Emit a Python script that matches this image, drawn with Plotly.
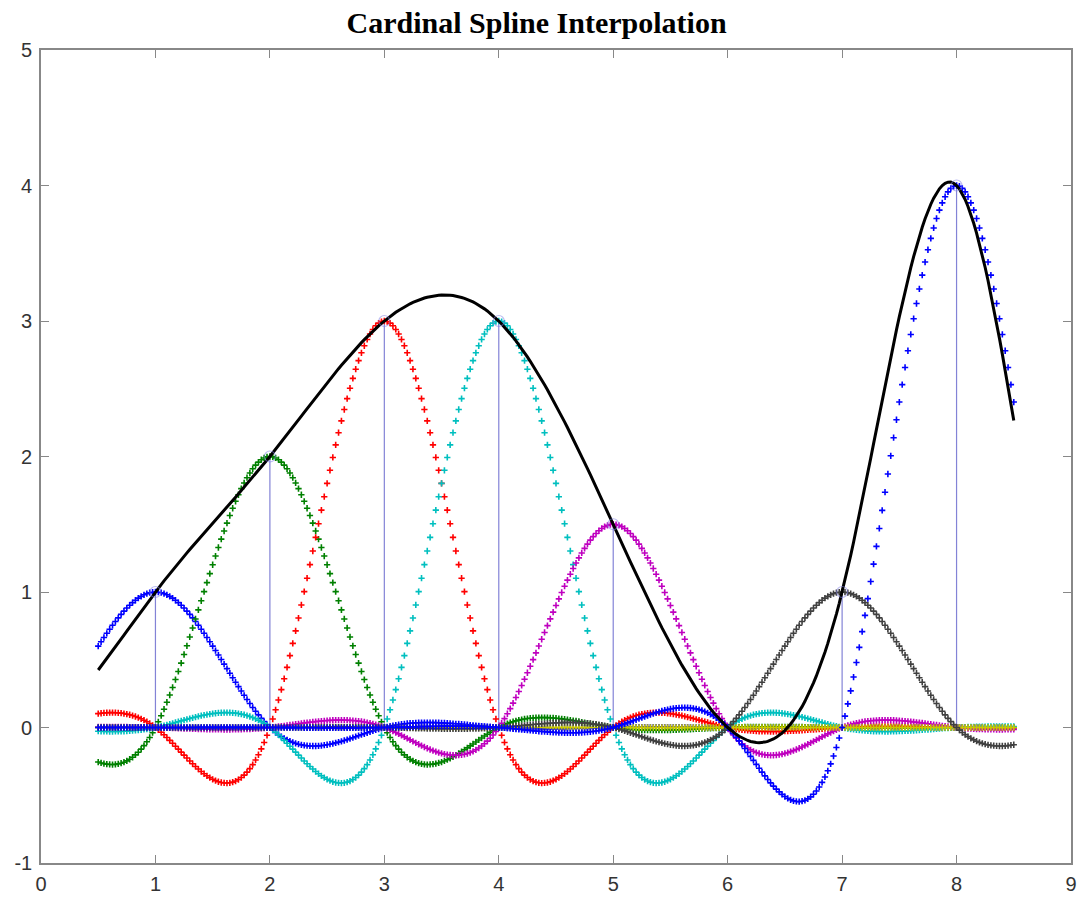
import numpy as np
import plotly.graph_objects as go

# Sample points and their values
sample_x = [1, 2, 3, 4, 5, 6, 7, 8]
sample_y = [1, 2, 3, 3, 1.5, 0, 1, 4]
# MATLAB default colour order used for the basis curves
curve_colors = ["#0000ff", "#008000", "#ff0000", "#00bfbf", "#bf00bf", "#c8c800", "#404040", "#0000ff"]
x_ticks = [0, 1, 2, 3, 4, 5, 6, 7, 8, 9]
y_ticks = [-1, 0, 1, 2, 3, 4, 5]
y_tick_text = ["-1", "0", "1", "2", "3", "4", "5"]
x_start, x_end, x_step = 0.5, 8.5, 0.025


def bspline3(t):
    a = np.abs(t)
    out = np.zeros_like(a)
    m1 = a < 1
    m2 = (a >= 1) & (a < 2)
    out[m1] = 2.0 / 3.0 - a[m1] ** 2 + a[m1] ** 3 / 2.0
    out[m2] = (2.0 - a[m2]) ** 3 / 6.0
    return out


def cardinal_cubic(t, n=30):
    # fundamental cubic cardinal spline: L(k) = delta_k
    r = np.sqrt(3.0) - 2.0
    total = np.zeros_like(t)
    for j in range(-n, n + 1):
        total += np.sqrt(3.0) * r ** abs(j) * bspline3(t - j)
    return total


xs = np.arange(x_start, x_end + 1e-9, x_step)

fig = go.Figure()

# stems
stem_x, stem_y = [], []
for sx, sy in zip(sample_x, sample_y):
    stem_x += [sx, sx, None]
    stem_y += [0, sy, None]
fig.add_trace(go.Scatter(x=stem_x, y=stem_y, mode="lines",
                         line=dict(color="rgba(90,90,200,0.75)", width=1.2), showlegend=False))

curves = []
for k, v, c in zip(sample_x, sample_y, curve_colors):
    yk = v * cardinal_cubic(xs - k)
    curves.append(yk)
    fig.add_trace(go.Scatter(
        x=xs, y=yk, mode="markers",
        marker=dict(symbol="cross-thin", size=4.5, color=c, line=dict(width=1.6, color=c)),
        showlegend=False, hoverinfo="skip"))

total = np.sum(curves, axis=0)
fig.add_trace(go.Scatter(x=xs, y=total, mode="lines", line=dict(color="black", width=3),
                         showlegend=False))

fig.add_trace(go.Scatter(x=[sx for sx, sy in zip(sample_x, sample_y) if sy != 0],
                         y=[sy for sy in sample_y if sy != 0], mode="markers",
                         marker=dict(symbol="circle-open", size=11, color="rgba(130,130,230,0.55)",
                                     line=dict(width=1.2)), showlegend=False))

axis_common = dict(showline=True, mirror="ticks", linecolor="#888", linewidth=1.6,
                   ticks="inside", ticklen=8, tickcolor="#888", tickwidth=1.2,
                   showgrid=False, zeroline=False, automargin=False,
                   tickfont=dict(family="Liberation Sans, Arial, sans-serif", size=20, color="#333"))

fig.update_layout(
    width=1084, height=898,
    margin=dict(l=41, r=13, t=50, b=35),
    paper_bgcolor="white", plot_bgcolor="white",
    title=dict(text="<b>Cardinal Spline Interpolation</b>", x=0.495, xref="container",
               xanchor="center", y=1 - 22 / 898, yref="container", yanchor="middle",
               font=dict(family="Liberation Serif, DejaVu Serif, serif", size=30, color="black")),
    xaxis=dict(range=[0, 9], tickvals=x_ticks, ticklabelstandoff=2, **axis_common),
    yaxis=dict(range=[-1, 5], tickvals=y_ticks, ticktext=y_tick_text, ticklabelstandoff=3,
               **axis_common),
)

fig.write_html("out.html", config={"displayModeBar": False},
               post_script="document.body.style.margin='0';")
